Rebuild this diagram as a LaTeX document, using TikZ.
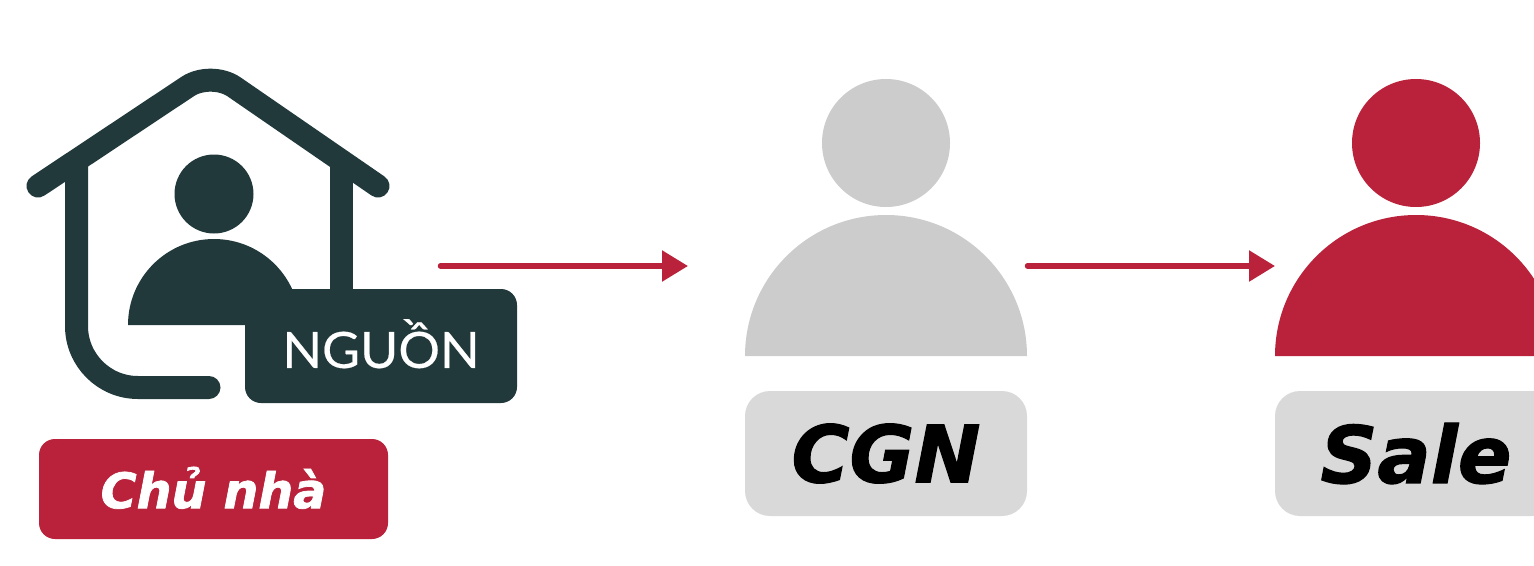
\documentclass[tikz,border=0pt]{standalone}
\usepackage{fontspec}
\usepackage{tikz}
\usetikzlibrary{arrows.meta,positioning}
\setmainfont{Lato}
\newfontfamily\tagfont[UprightFont=* Bold Oblique, FakeBold=1.5]{DejaVu Sans}
\newfontfamily\sourcefont[FakeStretch=1.04, FakeBold=0.4]{Lato}
\definecolor{Slate}{HTML}{22393C}
\definecolor{Crimson}{HTML}{B9223A}
\definecolor{Ash}{HTML}{CCCCCC}
\definecolor{Mist}{HTML}{D9D9D9}

\begin{document}
\begin{tikzpicture}[x=1pt,y=-1pt]
	\tikzstyle{Head}	= [circle, minimum size=128pt, inner sep=0pt]
	\tikzstyle{Tag}		= [rounded corners=25pt, minimum width=282pt, minimum height=125pt, inner sep=0pt, font=\tagfont\fontsize{79}{79}\selectfont]
	\tikzstyle{Wall}	= [line width=23pt, line cap=round, Slate]
	\tikzstyle{Flow}	= [line width=5.5pt, line cap=round, Crimson, -{Triangle[length=26pt,width=30pt]}]

	\clip (0,0) rectangle (1534,565);

	% house
	\draw (38,186) [Wall, rounded corners=28pt] -- (211,71) -- (378,186);
	\draw (76.5,162) [Wall, line cap=butt] -- (76.5,326) arc[start angle=180, end angle=90, radius=61.5] [line cap=round] -- (209,387.5);
	\draw (341.5,162) [Wall, line cap=butt] -- (341.5,295);

	% owner
	\node (headOwner) at (214,194) [Head, fill=Slate, minimum size=79pt] {};
	\fill [Slate] (128,325) arc[start angle=180, end angle=360, radius=86] -- cycle;
	\node (boxSource) at (381,346) [fill=Slate, rounded corners=16pt, minimum width=272pt, minimum height=114pt, inner sep=0pt, text=white, font=\sourcefont\fontsize{50}{50}\selectfont] {\raisebox{5pt}{NGUỒN}};
	\node (tagOwner) at (213.5,489) [Tag, fill=Crimson, text=white, minimum width=349pt, minimum height=100pt, rounded corners=16pt, font=\tagfont\fontsize{49}{49}\selectfont] {\raisebox{3pt}{Chủ nhà}};

	% CGN
	\node (headCGN) at (886,143) [Head, fill=Ash] {};
	\fill [Ash] (745,356) arc[start angle=180, end angle=360, radius=141] -- cycle;
	\node (tagCGN) at (886,453.5) [Tag, fill=Mist] {CGN};

	% Sale
	\node (headSale) at (1416,143) [Head, fill=Crimson] {};
	\fill [Crimson] (1275,356) arc[start angle=180, end angle=360, radius=141] -- cycle;
	\node (tagSale) at (1416,453.5) [Tag, fill=Mist] {Sale};

	% arrows
	\coordinate (fromOwner) at (440.5,266);
	\coordinate (toCGN) at (688,266);
	\coordinate (fromCGN) at (1027.5,266);
	\coordinate (toSale) at (1275,266);
	\draw (fromOwner) -- (toCGN) [Flow];
	\draw (fromCGN) -- (toSale) [Flow];
\end{tikzpicture}
\end{document}
